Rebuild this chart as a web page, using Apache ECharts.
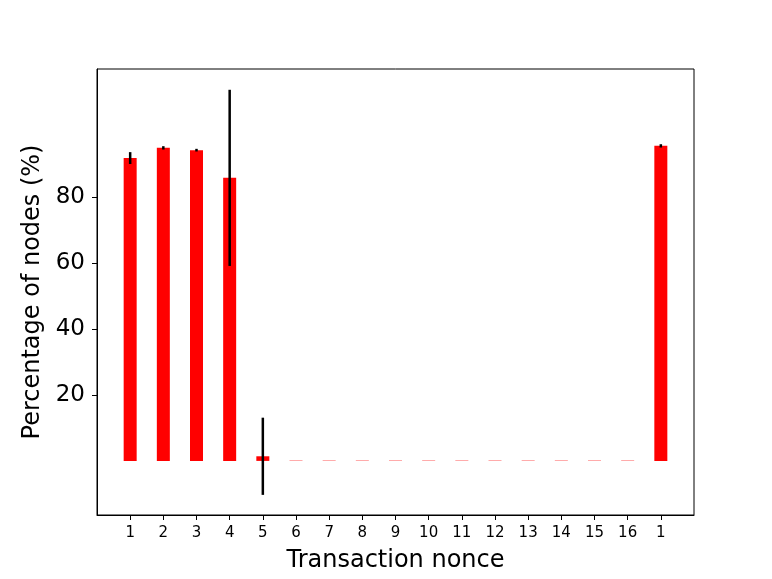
<!DOCTYPE html>
<html><head><meta charset="utf-8">
<script src="https://cdn.jsdelivr.net/npm/echarts@6/dist/echarts.min.js"></script>
<style>html,body{margin:0;padding:0;background:#fff}#c{width:772px;height:579px}</style>
</head><body><div id="c"></div>
<script>
var categories = ['1','2','3','4','5','6','7','8','9','10','11','12','13','14','15','16','1'];
var values = [91.8, 94.9, 94.2, 85.8, 1.4, 0.1, 0.1, 0.1, 0.1, 0.1, 0.1, 0.1, 0.1, 0.1, 0.1, 0.1, 95.5];
var errors = [1.8, 0.5, 0.4, 26.7, 11.7, 0, 0, 0, 0, 0, 0, 0, 0, 0, 0, 0, 0.5];
var yTicks = [20, 40, 60, 80];

var positions = categories.map(function(c, i){ return i + 1; });
var barData = values.map(function(v, i){ return [positions[i], v]; });
var errData = values.map(function(v, i){ return [positions[i], v - errors[i], v + errors[i]]; }).filter(function(d){ return d[2] - d[1] > 0; });

var chart = echarts.init(document.getElementById('c'), null, {renderer: 'canvas'});
var font = 'DejaVu Sans';
chart.setOption({
  animation: false,
  backgroundColor: '#fff',
  grid: {left: 97, top: 69, right: 78, bottom: 64, containLabel: false, outerBoundsMode: 'none',
    show: true, borderColor: '#000', borderWidth: 1, backgroundColor: 'transparent'},
  xAxis: {
    type: 'value', min: 0, max: categories.length + 1,
    name: 'Transaction nonce', nameLocation: 'middle', nameGap: 34,
    nameTextStyle: {fontFamily: font, fontSize: 24, color: '#000'},
    axisLine: {show: true, onZero: false, lineStyle: {color: '#000', width: 1}},
    axisTick: {show: true, customValues: positions, length: 5, lineStyle: {color: '#000'}},
    axisLabel: {customValues: positions, fontFamily: font, fontSize: 15, color: '#000', margin: 11,
      formatter: function(v){ var i = Math.round(v) - 1; return categories[i] !== undefined ? categories[i] : ''; }},
    splitLine: {show: false}
  },
  yAxis: {
    type: 'value', min: -16.4, max: 118.8,
    name: 'Percentage of nodes (%)', nameLocation: 'middle', nameGap: 48,
    nameTextStyle: {fontFamily: font, fontSize: 24, color: '#000'},
    axisLine: {show: true, onZero: false, lineStyle: {color: '#000', width: 1}},
    axisTick: {show: true, customValues: yTicks, length: 5, lineStyle: {color: '#000'}},
    axisLabel: {customValues: yTicks, fontFamily: font, fontSize: 23, color: '#000', margin: 12},
    splitLine: {show: false}
  },
  series: [
    {type: 'bar', data: barData, barWidth: 13, itemStyle: {color: '#ff0000'}},
    {type: 'custom', data: errData, z: 10,
      renderItem: function(params, api){
        var lo = api.coord([api.value(0), api.value(1)]);
        var hi = api.coord([api.value(0), api.value(2)]);
        return {type: 'line', shape: {x1: lo[0], y1: lo[1], x2: hi[0], y2: hi[1]}, style: {stroke: '#000', lineWidth: 2.5}};
      }}
  ]
});
</script></body></html>
